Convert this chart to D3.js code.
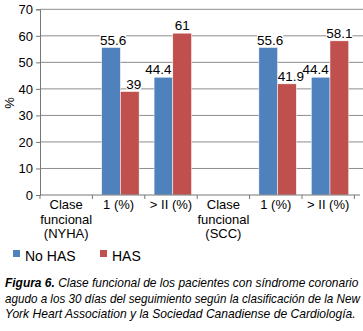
<!DOCTYPE html>
<html>
<head>
<meta charset="utf-8">
<script src="https://cdn.jsdelivr.net/npm/d3@7"></script>
<style>
  body { margin: 0; background: #fff; }
  svg { display: block; font-family: "Liberation Sans", Arial, sans-serif; }
</style>
</head>
<body>
<svg id="chart" width="363" height="331"></svg>
<script>
// chart data
var categories = [["Clase", "funcional", "(NYHA)"], ["1 (%)"], ["> II (%)"], ["Clase", "funcional", "(SCC)"], ["1 (%)"], ["> II (%)"]];
var seriesNames = ["No HAS", "HAS"];
var noHas = [null, 55.6, 44.4, null, 55.6, 44.4];
var has = [null, 39, 61, null, 41.9, 58.1];
var yTicks = [0, 10, 20, 30, 40, 50, 60, 70];
var captionLines = [
  ["Figura 6.", " Clase funcional de los pacientes con síndrome coronario"],
  ["", "agudo a los 30 días del seguimiento según la clasificación de la New"],
  ["", "York Heart Association y la Sociedad Canadiense de Cardiología."]
];

var colors = { "No HAS": "#4F81BD", "HAS": "#C0504D" };

var svg = d3.select("#chart");
// plot box (note: "top" is taken by window.top)
var plotLeft = 40, plotRight = 354.4, plotTop = 9.3, plotBottom = 195;

var y = d3.scaleLinear().domain([0, 70]).range([plotBottom, plotTop]);
var x = d3.scaleBand().domain(d3.range(categories.length)).range([plotLeft, plotRight]).padding(0);
var x1 = d3.scaleBand().domain(seriesNames).range([0, x.bandwidth()]).paddingInner(0).paddingOuter(0.4).align(0.62);

// gridlines
svg.append("g").selectAll("line")
  .data(yTicks.slice(1))
  .enter().append("line")
  .attr("x1", plotLeft).attr("x2", 363)
  .attr("y1", d => y(d)).attr("y2", d => y(d))
  .attr("stroke", "#8c8c8c").attr("stroke-width", 1);

// y axis
var yAxis = svg.append("g")
  .attr("transform", "translate(" + plotLeft + ",0)")
  .call(d3.axisLeft(y).tickValues(yTicks).tickSize(4).tickPadding(3));
yAxis.select(".domain").attr("stroke", "#777");
yAxis.selectAll(".tick line").attr("stroke", "#777");
yAxis.selectAll("text").attr("font-size", "13px").attr("fill", "#000").attr("font-family", "Liberation Sans, Arial, sans-serif");

svg.append("text")
  .attr("transform", "translate(14,103) rotate(-90)")
  .attr("text-anchor", "middle")
  .attr("font-size", "13px")
  .text("%");

// bars
var rows = categories.map(function(c, i) {
  return { i: i, values: [{ key: "No HAS", v: noHas[i] }, { key: "HAS", v: has[i] }] };
});

var groups = svg.append("g").selectAll("g")
  .data(rows)
  .enter().append("g")
  .attr("transform", d => "translate(" + x(d.i) + ",0)");

groups.selectAll("rect")
  .data(d => d.values.filter(v => v.v != null))
  .enter().append("rect")
  .attr("x", d => x1(d.key))
  .attr("width", x1.bandwidth())
  .attr("y", d => y(d.v))
  .attr("height", d => plotBottom - y(d.v))
  .attr("fill", d => colors[d.key])
  .attr("stroke", "#fff").attr("stroke-width", 0.5);

// x axis
svg.append("line")
  .attr("x1", plotLeft).attr("x2", 360)
  .attr("y1", plotBottom).attr("y2", plotBottom)
  .attr("stroke", "#777");
svg.append("g").selectAll("line")
  .data(d3.range(categories.length + 1))
  .enter().append("line")
  .attr("x1", d => plotLeft + d * x.step()).attr("x2", d => plotLeft + d * x.step())
  .attr("y1", plotBottom).attr("y2", plotBottom + 4)
  .attr("stroke", "#777");

svg.append("g").selectAll("text")
  .data(rows)
  .enter().append("text")
  .attr("text-anchor", "middle")
  .attr("font-size", "13px")
  .attr("x", d => x(d.i) + x.bandwidth() / 2)
  .attr("y", 209)
  .each(function(d) {
    var t = d3.select(this);
    categories[d.i].forEach(function(line, k) {
      t.append("tspan").attr("x", x(d.i) + x.bandwidth() / 2).attr("dy", k === 0 ? 0 : 14.5).text(line);
    });
  });

// value labels, nudged sideways when the neighbour bar is taller
var labels = svg.append("g");
rows.forEach(function(r) {
  var a = r.values[0].v, b = r.values[1].v;
  if (a == null) return;
  r.values.forEach(function(v, k) {
    var cx = x(r.i) + x1(v.key) + x1.bandwidth() / 2;
    var shift = 0;
    if (k === 0 && b > a) shift = -5;
    if (k === 1 && a > b) shift = 4;
    if (k === 0 && a > b) shift = 2;
    var txt = labels.append("text")
      .attr("x", cx + shift)
      .attr("y", y(v.v) - 3)
      .attr("text-anchor", "middle")
      .attr("font-size", "13.5px")
      .text(v.v);
    var bb = txt.node().getBBox();
    labels.insert("rect", "text")
      .attr("x", bb.x).attr("y", bb.y + 2)
      .attr("width", bb.width).attr("height", bb.height - 4)
      .attr("fill", "#fff");
  });
});

// legend
var legend = svg.append("g");
seriesNames.forEach(function(name, k) {
  var lx = 13 + k * 87;
  legend.append("rect").attr("x", lx).attr("y", 250).attr("width", 7).attr("height", 7).attr("fill", colors[name]);
  legend.append("text").attr("x", lx + 12).attr("y", 261).attr("font-size", "14px").text(name);
});

// caption: narrow italic look, squeezed horizontally to the measured width
var widths = [354, 355, 351];
var caption = svg.append("g")
  .attr("font-family", "'Liberation Sans Narrow', 'Arial Narrow', 'Liberation Sans', Arial, sans-serif")
  .attr("font-style", "italic")
  .attr("font-size", "12.5px");
captionLines.forEach(function(parts, k) {
  var t = caption.append("text").attr("x", 0).attr("y", 0);
  if (parts[0]) t.append("tspan").attr("font-weight", "bold").text(parts[0]);
  t.append("tspan").text(parts[1]);
  var natural = t.node().getComputedTextLength();
  var sx = widths[k] / natural;
  t.attr("transform", "translate(5," + (287 + k * 15.5) + ") scale(" + sx + ",1)");
});
</script>
</body>
</html>
